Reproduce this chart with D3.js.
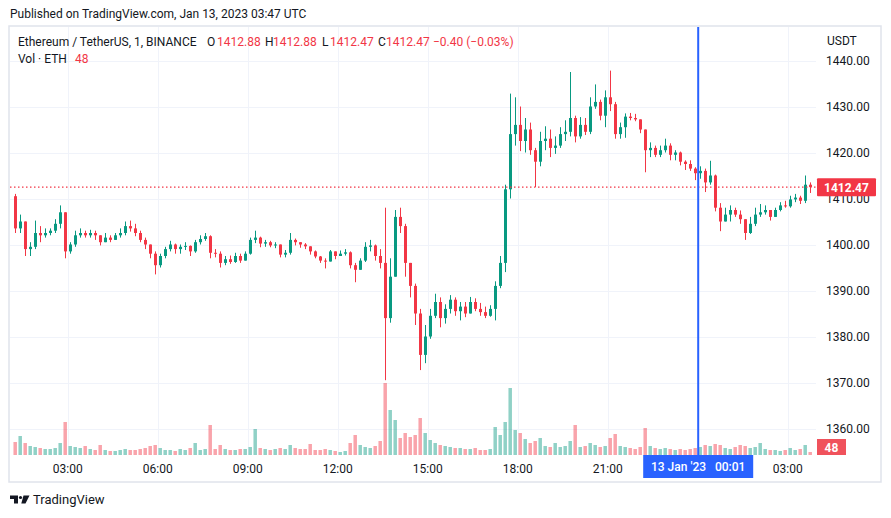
<!DOCTYPE html>
<html>
<head>
<meta charset="utf-8">
<script src="https://cdn.jsdelivr.net/npm/d3@7"></script>
<style>
body { margin: 0; background: #fff; }
svg text { font-family: Roboto, "Noto Sans", sans-serif; fill: #131722; }
</style>
</head>
<body>
<svg id="chart" width="891" height="518"></svg>
<script>
// ETH/USDT, 10-minute candles starting 12 Jan 2023 01:10 UTC
var startTime = Date.UTC(2023, 0, 12, 1, 10);
var firstOpen = 1410.5;
var closes = [
	1403.5, 1405, 1399, 1399.5, 1402.5, 1402, 1402.5, 1403, 1404.5, 1407,
	1398.5, 1400, 1402, 1402.5, 1402, 1402.5, 1402, 1400.5, 1401.5, 1401,
	1402, 1402.5, 1404, 1403.5, 1402.5, 1401, 1400, 1398, 1395.5, 1397.5,
	1399, 1400, 1399, 1399.5, 1399.7, 1398.5, 1400.5, 1401.2, 1401.8, 1398.2,
	1398, 1396, 1396.8, 1396.2, 1397.5, 1396.5, 1398, 1401, 1401.5, 1400.2,
	1400.5, 1399.8, 1400, 1397.8, 1398.2, 1401, 1400.5, 1400, 1399.6, 1398.5,
	1397.4, 1396.5, 1396.3, 1398.5, 1397.5, 1398, 1398.3, 1395.5, 1394.5, 1396.5,
	1399.5, 1399.8, 1397.5, 1396, 1384, 1393, 1406, 1404, 1396, 1391,
	1385, 1376, 1380, 1384.5, 1387.5, 1384, 1386, 1388, 1385.5, 1386.5,
	1385, 1387.5, 1386, 1385.3, 1384.5, 1386, 1391, 1396, 1412, 1424,
	1426, 1422.5, 1425, 1420.5, 1418, 1422.5, 1423, 1421, 1421.5, 1424,
	1424.5, 1427.5, 1423.5, 1426, 1424.5, 1430, 1431, 1428, 1432, 1430.5,
	1424, 1425.5, 1427.8, 1427.5, 1427.2, 1425, 1420.5, 1421, 1419.5, 1420.5,
	1421.5, 1419.5, 1420, 1418, 1417.5, 1416.5, 1415.5, 1416, 1413.5, 1415,
	1408, 1405, 1406.5, 1407.5, 1406.5, 1405.5, 1402.5, 1404.5, 1406.5, 1407,
	1407.5, 1406, 1407.5, 1408.5, 1408.3, 1409.8, 1410.2, 1409.5, 1413, 1412.47
];
var highs = [
	1411, 1406.5, 1405, 1400.5, 1405.2, 1404, 1403.5, 1403.5, 1405.5, 1408.5,
	1407, 1400.5, 1403, 1403.5, 1403, 1403.2, 1403, 1402, 1402.5, 1402,
	1402.5, 1403.5, 1405, 1405.2, 1404.5, 1403, 1401.5, 1400, 1398.5, 1398,
	1399.5, 1400.8, 1400.2, 1400, 1400.5, 1399.8, 1401, 1402, 1402.5, 1402,
	1399, 1398.5, 1397.5, 1397.6, 1398.2, 1398, 1398.5, 1401.5, 1403, 1401.7,
	1401, 1400.8, 1400.5, 1400, 1398.8, 1402.5, 1401.3, 1400.5, 1400.3, 1399.6,
	1398.7, 1397.5, 1397, 1398.8, 1398.5, 1398.7, 1399, 1398.5, 1396, 1397,
	1400.5, 1401, 1400, 1399, 1408, 1397, 1407.5, 1408, 1404.5, 1396,
	1391.5, 1386, 1382.5, 1386, 1389.3, 1388.5, 1387, 1389, 1388.5, 1387.5,
	1387.5, 1388.6, 1388.3, 1387.3, 1386.5, 1386.8, 1392, 1397.5, 1413, 1432.8,
	1432, 1430, 1427.5, 1426.5, 1421, 1424.5, 1425.7, 1425, 1423.5, 1425.5,
	1427, 1437.5, 1428, 1427.7, 1427.5, 1432, 1434.8, 1431.5, 1433.5, 1437.8,
	1431, 1426.5, 1428.5, 1428.6, 1428.4, 1427.2, 1425, 1422.2, 1421.5, 1421.5,
	1423, 1422, 1420.5, 1420.2, 1418.3, 1418.3, 1416.8, 1417, 1416.5, 1418.2,
	1415.2, 1409, 1408, 1408.5, 1408, 1407.4, 1405.5, 1406, 1408, 1408.8,
	1408.5, 1407.5, 1408, 1409.2, 1409.5, 1410.6, 1411, 1410.6, 1415, 1413.5
];
var lows = [
	1402.5, 1402.5, 1397.5, 1397.5, 1399, 1400.5, 1401.5, 1402, 1402.5, 1403.5,
	1397, 1398, 1399.5, 1401.5, 1401.5, 1401.5, 1401, 1399.8, 1400.5, 1400.5,
	1401, 1401.5, 1402, 1402.8, 1401.8, 1400.5, 1399, 1397, 1393.5, 1395,
	1397, 1398.5, 1398, 1398, 1398.8, 1397.5, 1398.2, 1400, 1400.8, 1397,
	1397.2, 1395, 1395.5, 1395.8, 1396, 1396, 1396.5, 1397.8, 1400.3, 1399.4,
	1399.5, 1399.4, 1399.2, 1397.2, 1397.2, 1397.8, 1399.8, 1399.3, 1399, 1397.8,
	1397, 1396, 1394.8, 1396.3, 1396.8, 1397.5, 1397.6, 1394.8, 1391.8, 1394.5,
	1396.2, 1398.5, 1396.5, 1394.8, 1370.5, 1383, 1393, 1402.5, 1393, 1388.5,
	1382.5, 1372.7, 1374.2, 1379.5, 1384, 1382, 1382.8, 1385, 1384.5, 1383.5,
	1384.2, 1385, 1385.5, 1384.5, 1384, 1384.3, 1383.5, 1390.5, 1394, 1410,
	1421.5, 1420.3, 1420, 1419.5, 1412.5, 1417, 1420.5, 1419, 1419.7, 1421,
	1422.5, 1423.5, 1422.2, 1423, 1423.8, 1424, 1429.5, 1427, 1425.5, 1429,
	1423, 1423, 1423.2, 1427, 1426.8, 1424.2, 1415.7, 1419, 1419, 1419,
	1420, 1418.3, 1418.3, 1417.2, 1416.2, 1416, 1414, 1414.3, 1411.4, 1413,
	1407.2, 1402.9, 1405, 1405, 1406, 1404.5, 1401, 1402.3, 1404, 1406,
	1406.5, 1405.2, 1406, 1407.2, 1408, 1408, 1409.2, 1408.8, 1409, 1411.2
];
// relative volume of each 10-minute bar
var volumes = [
	13, 19, 12, 9, 8, 7, 6, 6, 7, 12,
	33, 9, 8, 7, 9, 6, 5, 10, 5, 4,
	4, 5, 6, 5, 5, 6, 7, 9, 10, 7,
	5, 5, 4, 6, 5, 7, 12, 5, 6, 30,
	6, 10, 6, 5, 5, 6, 6, 8, 26, 7,
	6, 5, 6, 7, 6, 10, 7, 6, 6, 11,
	5, 5, 6, 5, 4, 3, 4, 12, 20, 10,
	8, 7, 9, 14, 72, 45, 35, 17, 22, 18,
	20, 37, 22, 15, 12, 10, 9, 8, 7, 7,
	6, 6, 7, 5, 5, 6, 28, 20, 33, 67,
	25, 22, 16, 12, 14, 17, 9, 8, 12, 8,
	9, 14, 30, 8, 9, 12, 10, 8, 9, 17,
	21, 9, 8, 7, 6, 8, 27, 9, 7, 6,
	7, 6, 5, 6, 5, 6, 7, 8, 10, 9,
	11, 10, 7, 6, 8, 10, 9, 7, 8, 12,
	6, 5, 5, 4, 5, 7, 5, 6, 10, 3
];
var priceTicks = [1360, 1370, 1380, 1390, 1400, 1410, 1420, 1430, 1440];
var timeTicks = [
	Date.UTC(2023, 0, 12, 3), Date.UTC(2023, 0, 12, 6), Date.UTC(2023, 0, 12, 9),
	Date.UTC(2023, 0, 12, 12), Date.UTC(2023, 0, 12, 15), Date.UTC(2023, 0, 12, 18),
	Date.UTC(2023, 0, 12, 21), Date.UTC(2023, 0, 13, 0), Date.UTC(2023, 0, 13, 3)
];
var crossTime = Date.UTC(2023, 0, 13, 0, 1);
var lastPrice = 1412.47;
var lastVolume = 48;

var UP = "#089981", DOWN = "#f23645";
var svg = d3.select("#chart");

var plot = { l: 10, r: 816, t: 27, b: 455 };

var x = d3.scaleUtc()
	.domain([Date.UTC(2023, 0, 12, 3), Date.UTC(2023, 0, 13, 3)])
	.range([67.7, 787.7]);
var y = d3.scaleLinear().domain([1360, 1440]).range([428.5, 60.5]);
var yv = d3.scaleLinear().domain([0, d3.max(volumes)]).range([plot.b, plot.b - 72]);

// build candles
var candles = closes.map(function(c, i) {
	var t = startTime + i * 600000;
	return {
		t: t,
		o: i ? closes[i - 1] : firstOpen,
		h: highs[i], l: lows[i], c: c, v: volumes[i]
	};
});

// frame
svg.append("rect")
	.attr("x", 9).attr("y", 26).attr("width", 872).attr("height", 456)
	.attr("fill", "none").attr("stroke", "#e0e3eb").attr("stroke-width", 1.5);

// grid
svg.append("g").selectAll("line").data(priceTicks).enter().append("line")
	.attr("x1", plot.l).attr("x2", plot.r)
	.attr("y1", function(d) { return Math.round(y(d)) + 0.5; })
	.attr("y2", function(d) { return Math.round(y(d)) + 0.5; })
	.attr("stroke", "#f0f3fa");
svg.append("g").selectAll("line").data(timeTicks).enter().append("line")
	.attr("y1", plot.t).attr("y2", plot.b)
	.attr("x1", function(d) { return Math.round(x(d)) + 0.5; })
	.attr("x2", function(d) { return Math.round(x(d)) + 0.5; })
	.attr("stroke", "#f0f3fa");

var g = svg.append("g");
var half = 300000; // 5 minutes, centre of a bar

// volume
g.selectAll("rect.vol").data(candles).enter().append("rect")
	.attr("class", "vol")
	.attr("x", function(d) { return x(d.t + half) - 1.75; })
	.attr("width", 3.5)
	.attr("y", function(d) { return yv(d.v); })
	.attr("height", function(d) { return plot.b - yv(d.v); })
	.attr("fill", function(d) { return d.c >= d.o ? "rgba(8,153,129,0.45)" : "rgba(242,54,69,0.45)"; });

// wicks
g.selectAll("line.wick").data(candles).enter().append("line")
	.attr("class", "wick")
	.attr("x1", function(d) { return Math.round(x(d.t + half)) + 0.5; })
	.attr("x2", function(d) { return Math.round(x(d.t + half)) + 0.5; })
	.attr("y1", function(d) { return y(d.h); })
	.attr("y2", function(d) { return y(d.l); })
	.attr("stroke", function(d) { return d.c >= d.o ? UP : DOWN; });

// bodies
g.selectAll("rect.body").data(candles).enter().append("rect")
	.attr("class", "body")
	.attr("x", function(d) { return Math.round(x(d.t + half)) - 1; })
	.attr("width", 3)
	.attr("y", function(d) { return y(Math.max(d.o, d.c)); })
	.attr("height", function(d) { return Math.max(1, Math.abs(y(d.o) - y(d.c))); })
	.attr("fill", function(d) { return d.c >= d.o ? UP : DOWN; });

// last price line
svg.append("line")
	.attr("x1", plot.l).attr("x2", plot.r)
	.attr("y1", y(lastPrice)).attr("y2", y(lastPrice))
	.attr("stroke", DOWN).attr("stroke-width", 1.2)
	.attr("stroke-dasharray", "1.5,2.5");

// crosshair
svg.append("line")
	.attr("x1", x(crossTime)).attr("x2", x(crossTime))
	.attr("y1", plot.t).attr("y2", plot.b)
	.attr("stroke", "#2962ff").attr("stroke-width", 2);

// price axis (1410.00 sits partly under the last-price tag, as in TradingView)
svg.append("text").attr("x", 827).attr("y", 45).attr("font-size", 12).text("USDT");
svg.append("g").selectAll("text").data(priceTicks).enter().append("text")
	.attr("x", 826).attr("y", function(d) { return y(d) + 4; })
	.attr("font-size", 12)
	.text(function(d) { return d3.format(".2f")(d); });

svg.append("rect")
	.attr("x", 817).attr("y", y(lastPrice) - 9).attr("width", 59).attr("height", 18)
	.attr("rx", 1).attr("fill", DOWN);
svg.append("text")
	.attr("x", 846.5).attr("y", y(lastPrice) + 4.5).attr("text-anchor", "middle")
	.attr("font-size", 12).attr("font-weight", "bold").style("fill", "#fff")
	.text(d3.format(".2f")(lastPrice));

svg.append("rect")
	.attr("x", 817).attr("y", 439).attr("width", 29).attr("height", 16)
	.attr("fill", "#f0525c");
svg.append("text")
	.attr("x", 831.5).attr("y", 451.5).attr("text-anchor", "middle")
	.attr("font-size", 12).attr("font-weight", "bold").style("fill", "#fff")
	.text(lastVolume);

// time axis (the 00:00 label is hidden by the crosshair label)
var fmt = d3.utcFormat("%H:%M");
svg.append("g").selectAll("text")
	.data(timeTicks.filter(function(d) { return Math.abs(d - crossTime) > 3600000; }))
	.enter().append("text")
	.attr("x", function(d) { return x(d); }).attr("y", 473)
	.attr("text-anchor", "middle").attr("font-size", 12)
	.text(function(d) { return fmt(d); });

svg.append("rect")
	.attr("x", x(crossTime) - 55).attr("y", 455).attr("width", 110).attr("height", 23)
	.attr("fill", "#2962ff");
svg.append("text")
	.attr("x", x(crossTime)).attr("y", 471).attr("text-anchor", "middle")
	.attr("font-size", 12).attr("font-weight", 500).style("fill", "#fff")
	.attr("xml:space", "preserve")
	.text("13 Jan '23   " + fmt(crossTime));

// header / legend
svg.append("text").attr("x", 10).attr("y", 18).attr("font-size", 12)
	.text("Published on TradingView.com, Jan 13, 2023 03:47 UTC");

var legend = [
	{ x: 18, s: "Ethereum / TetherUS, 1, BINANCE", red: false },
	{ x: 207, s: "O", red: false }, { x: 217, s: "1412.88", red: true },
	{ x: 265, s: "H", red: false }, { x: 273, s: "1412.88", red: true },
	{ x: 322, s: "L", red: false }, { x: 330, s: "1412.47", red: true },
	{ x: 378, s: "C", red: false }, { x: 386, s: "1412.47", red: true },
	{ x: 433, s: "\u22120.40 (\u22120.03%)", red: true }
];
svg.append("g").selectAll("text").data(legend).enter().append("text")
	.attr("x", function(d) { return d.x; }).attr("y", 46).attr("font-size", 12)
	.style("fill", function(d) { return d.red ? DOWN : "#131722"; })
	.text(function(d) { return d.s; });
svg.append("text").attr("x", 18).attr("y", 63).attr("font-size", 12).text("Vol \u00b7 ETH");
svg.append("text").attr("x", 75).attr("y", 63).attr("font-size", 12).style("fill", DOWN).text(lastVolume);

// TradingView logo
var logo = svg.append("g").attr("fill", "#131722");
logo.append("path").attr("d", "M10,495.5h8v8h-4v-4.5h-4z");
logo.append("circle").attr("cx", 20.5).attr("cy", 497.5).attr("r", 1.6);
logo.append("path").attr("d", "M23.5,495.5h6l-4,8h-4.2z");
svg.append("text").attr("x", 33).attr("y", 504).attr("font-size", 13).text("TradingView");
</script>
</body>
</html>
